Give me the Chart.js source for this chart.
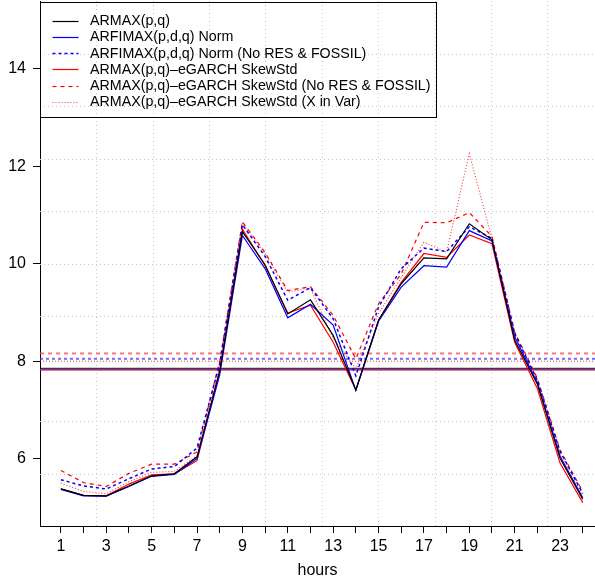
<!DOCTYPE html>
<html>
<head>
<meta charset="utf-8">
<script src="https://cdn.jsdelivr.net/npm/chart.js@4"></script>
<style>
html,body{margin:0;padding:0;background:#fff;overflow:hidden;}
canvas{display:block;}
</style>
</head>
<body>
<canvas id="c" width="595" height="582"></canvas>
<script>
const hours = [1,2,3,4,5,6,7,8,9,10,11,12,13,14,15,16,17,18,19,20,21,22,23,24];
const yTicks = [6,8,10,12,14];
const seriesNames = [
  "ARMAX(p,q)",
  "ARFIMAX(p,d,q) Norm",
  "ARFIMAX(p,d,q) Norm (No RES & FOSSIL)",
  "ARMAX(p,q)\u2013eGARCH SkewStd",
  "ARMAX(p,q)\u2013eGARCH SkewStd (No RES & FOSSIL)",
  "ARMAX(p,q)\u2013eGARCH SkewStd (X in Var)"
];
const armax       = [5.38,5.25,5.24,5.44,5.65,5.69,6.04,7.80,10.66,9.98,8.97,9.26,8.53,7.41,8.84,9.59,10.12,10.10,10.82,10.49,8.43,7.53,6.01,5.17];
const arfimaNorm  = [5.37,5.24,5.23,5.43,5.64,5.68,6.00,7.72,10.58,9.90,8.89,9.17,8.74,7.40,8.82,9.52,9.96,9.93,10.68,10.47,8.50,7.56,6.05,5.20];
const arfimaNoRes = [5.57,5.44,5.38,5.59,5.79,5.84,6.22,7.95,10.80,10.15,9.25,9.51,8.87,7.70,9.11,9.90,10.32,10.25,10.76,10.52,8.57,7.61,6.15,5.29];
const egarch      = [5.38,5.25,5.24,5.48,5.67,5.69,5.96,7.80,10.71,9.96,8.99,9.15,8.39,7.41,8.84,9.62,10.21,10.13,10.59,10.41,8.39,7.44,5.91,5.10];
const egarchNoRes = [5.76,5.51,5.43,5.70,5.89,5.89,6.14,8.00,10.86,10.23,9.45,9.53,8.94,8.05,9.18,9.79,10.85,10.84,11.05,10.56,8.60,7.65,6.18,5.33];
const egarchXVar  = [5.50,5.33,5.28,5.53,5.72,5.74,6.06,7.90,10.83,10.20,9.42,9.50,8.47,7.85,8.98,9.72,10.44,10.24,12.26,10.51,8.55,7.62,6.12,5.25];
const meanLevels  = [7.85,7.83,8.05,7.82,8.16,8.00];

const FAMILY = '"Liberation Sans", Arial, Helvetica, sans-serif';
const styles = [
  {color:'#000000', dash:[], width:1.2, meanColor:'rgba(0,0,0,0.75)', meanWidth:1.5},
  {color:'#0000ff', dash:[], width:1.2, meanColor:'rgba(0,0,255,0.6)', meanWidth:1.5},
  {color:'#0000ff', dash:[3,3], width:1.5, meanColor:'rgba(60,60,255,0.75)', meanWidth:2},
  {color:'#ff0000', dash:[], width:1.2, meanColor:'rgba(255,0,0,0.6)', meanWidth:1.5},
  {color:'#ff0000', dash:[4,4], width:1.2, meanColor:'rgba(255,60,60,0.7)', meanWidth:2},
  {color:'rgba(255,0,0,0.8)', dash:[1,2], width:1.1, meanColor:'rgba(255,0,0,0.8)', meanWidth:1}
];
const allSeries = [armax, arfimaNorm, arfimaNoRes, egarch, egarchNoRes, egarchXVar];

// R-like user range (4% extension) used for grid(10,10)
const usrX = [0.08, 24.92];
const usrY = [4.62, 15.39];

const datasets = allSeries.map((vals, i) => ({
  label: seriesNames[i],
  data: hours.map((h, j) => ({x: h, y: vals[j]})),
  borderColor: styles[i].color,
  borderWidth: styles[i].width,
  borderDash: styles[i].dash,
  pointRadius: 0,
  tension: 0,
  fill: false
}));

const bgPlugin = {
  id: 'bgstuff',
  beforeDatasetsDraw(chart) {
    const {ctx, chartArea, scales} = chart;
    ctx.save();
    ctx.beginPath();
    ctx.rect(chartArea.left, chartArea.top, chartArea.right - chartArea.left, chartArea.bottom - chartArea.top);
    ctx.clip();
    // grid
    ctx.strokeStyle = '#c8c8c8';
    ctx.lineWidth = 1;
    ctx.setLineDash([1,3]);
    for (let k = 1; k <= 9; k++) {
      const xv = usrX[0] + k * (usrX[1] - usrX[0]) / 10;
      const px = Math.round(scales.x.getPixelForValue(xv)) + 0.5;
      ctx.beginPath(); ctx.moveTo(px, chartArea.top); ctx.lineTo(px, chartArea.bottom); ctx.stroke();
      const yv = usrY[0] + k * (usrY[1] - usrY[0]) / 10;
      const py = Math.round(scales.y.getPixelForValue(yv)) + 0.5;
      ctx.beginPath(); ctx.moveTo(chartArea.left, py); ctx.lineTo(chartArea.right, py); ctx.stroke();
    }
    // mean lines
    meanLevels.forEach((m, i) => {
      const py = scales.y.getPixelForValue(m);
      ctx.strokeStyle = styles[i].meanColor;
      ctx.lineWidth = styles[i].meanWidth;
      ctx.setLineDash(styles[i].dash);
      ctx.beginPath(); ctx.moveTo(chartArea.left, py); ctx.lineTo(chartArea.right, py); ctx.stroke();
    });
    ctx.restore();
  },
  afterDatasetsDraw(chart) {
    const {ctx, chartArea} = chart;
    const left = Math.round(chartArea.left) + 0.5;
    const top = 2.5;
    const w = 396, h = 115;
    ctx.save();
    ctx.setLineDash([]);
    ctx.strokeStyle = '#000';
    ctx.lineWidth = 1;
    ctx.strokeRect(left, top, w, h);
    ctx.font = '14.25px ' + FAMILY;
    ctx.fillStyle = '#000';
    ctx.textBaseline = 'middle';
    ctx.textAlign = 'left';
    seriesNames.forEach((name, i) => {
      const y = 20.5 + i * 16.3;
      ctx.strokeStyle = styles[i].color;
      ctx.lineWidth = styles[i].width;
      ctx.setLineDash(styles[i].dash);
      ctx.beginPath(); ctx.moveTo(left + 12, Math.round(y) + 0.5); ctx.lineTo(left + 38, Math.round(y) + 0.5); ctx.stroke();
      ctx.fillText(name, left + 49.5, y + 0.5);
    });
    ctx.restore();
  }
};

new Chart(document.getElementById('c'), {
  type: 'line',
  data: {datasets},
  options: {
    responsive: false,
    animation: false,
    layout: {padding: {top: 1, right: 0, left: 0, bottom: 0}},
    plugins: {legend: {display: false}, tooltip: {enabled: false}},
    scales: {
      x: {
        type: 'linear',
        min: usrX[0],
        max: 24.54,
        afterBuildTicks: s => { s.ticks = hours.map(v => ({value: v})); },
        afterFit: s => { s.height = 56; s.paddingLeft = 0; s.paddingRight = 0; },
        ticks: {
          autoSkip: false, maxRotation: 0, minRotation: 0,
          callback: v => (v % 2 === 1 ? String(v) : ''),
          color: '#000', font: {size: 16, family: FAMILY}, padding: 4
        },
        grid: {drawOnChartArea: false, drawTicks: true, tickLength: 7, color: '#000', lineWidth: 1},
        border: {display: true, color: '#000', width: 1},
        title: {display: true, text: 'hours', color: '#000', font: {size: 16, family: FAMILY}, padding: {top: 0, bottom: 2}}
      },
      y: {
        type: 'linear',
        min: usrY[0],
        max: usrY[1],
        afterBuildTicks: s => { s.ticks = yTicks.map(v => ({value: v})); },
        afterFit: s => { s.width = 40; s.paddingTop = 0; s.paddingBottom = 0; },
        ticks: {color: '#000', font: {size: 16, family: FAMILY}, padding: 7},
        grid: {drawOnChartArea: false, drawTicks: true, tickLength: 7, color: '#000', lineWidth: 1},
        border: {display: true, color: '#000', width: 1}
      }
    }
  },
  plugins: [bgPlugin]
});
</script>
</body>
</html>
